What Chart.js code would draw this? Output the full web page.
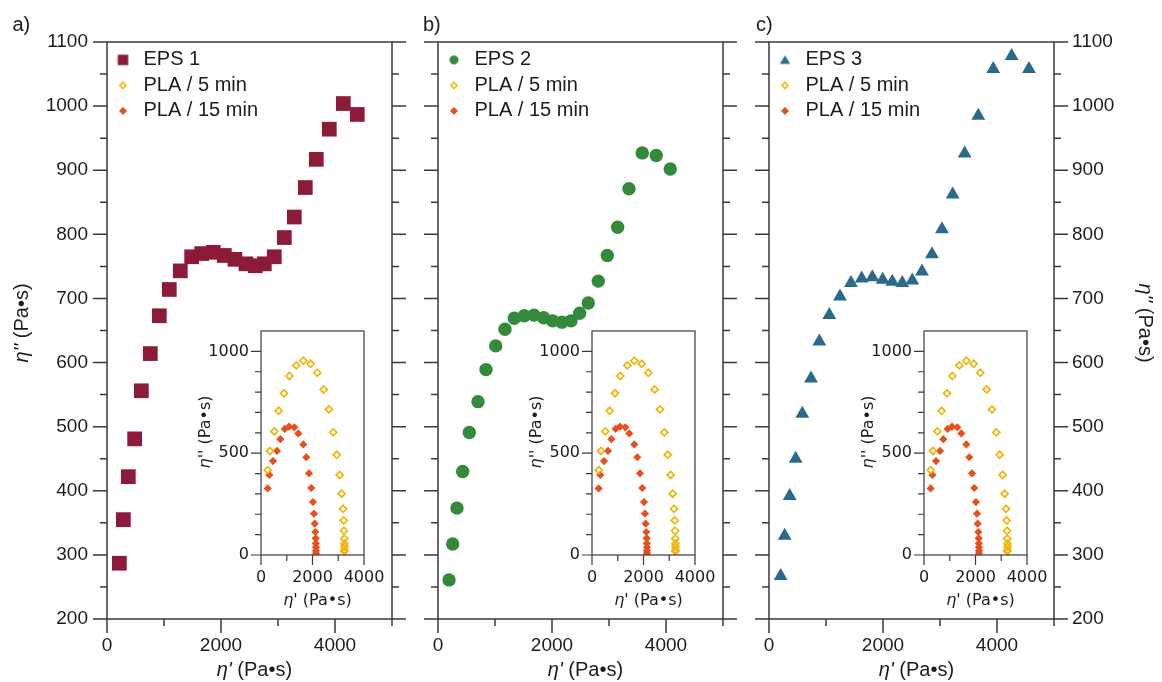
<!DOCTYPE html>
<html lang="en">
<head>
<meta charset="utf-8" />
<title>EPS / PLA complex viscosity</title>
<script src="https://cdn.jsdelivr.net/npm/chart.js@4.4.1/dist/chart.umd.min.js"></script>
<style>
  body { margin: 0; background: #fff; }
  #wrap { position: relative; width: 1162px; height: 682px; }
  #wrap canvas { position: absolute; left: 0; top: 0; }
</style>
</head>
<body>
<div id="wrap">
  <canvas id="mainA" width="1162" height="682"></canvas>
  <canvas id="mainB" width="1162" height="682"></canvas>
  <canvas id="mainC" width="1162" height="682"></canvas>
  <canvas id="insetA" width="1162" height="682"></canvas>
  <canvas id="insetB" width="1162" height="682"></canvas>
  <canvas id="insetC" width="1162" height="682"></canvas>
</div>
<script>
// ---- data (eta' , eta'' in Pa.s) ----
var eps1X = [217, 287, 374, 485, 603, 760, 918, 1093, 1286, 1485, 1661, 1865, 2058, 2245, 2438, 2602, 2760, 2935, 3111, 3286, 3479, 3672, 3900, 4146, 4391];
var eps1Y = [287, 355, 422, 481, 556, 614, 673, 714, 743, 765, 770, 772, 767, 761, 754, 751, 754, 765, 795, 827, 873, 917, 964, 1004, 987];

var eps2X = [193, 258, 333, 433, 549, 702, 842, 1012, 1175, 1339, 1514, 1684, 1854, 2012, 2175, 2333, 2485, 2636, 2812, 2970, 3152, 3350, 3584, 3829, 4075];
var eps2Y = [261, 317, 373, 430, 491, 539, 589, 626, 652, 669, 673, 674, 670, 665, 663, 665, 677, 693, 727, 767, 811, 871, 927, 923, 902];

var eps3X = [205, 275, 363, 468, 584, 737, 883, 1058, 1245, 1438, 1626, 1812, 1994, 2163, 2338, 2514, 2684, 2859, 3034, 3222, 3433, 3671, 3934, 4257, 4561];
var eps3Y = [267, 330, 392, 450, 520, 575, 633, 674, 703, 724, 731, 733, 729, 726, 724, 728, 742, 769, 808, 862, 926, 985, 1058, 1078, 1058];

var pla5X = [259, 350, 518, 686, 893, 1100, 1372, 1643, 1929, 2186, 2434, 2640, 2808, 2939, 3055, 3133, 3184, 3211, 3223, 3235, 3240, 3245, 3245, 3235];
var pla5Y = [417, 511, 607, 708, 794, 879, 931, 954, 939, 895, 813, 715, 602, 492, 393, 301, 227, 170, 119, 80, 55, 41, 25, 18];

var pla15X = [259, 324, 466, 621, 751, 919, 1087, 1294, 1449, 1643, 1759, 1864, 1953, 2019, 2058, 2085, 2109, 2124, 2130, 2136, 2136, 2136];
var pla15Y = [327, 393, 461, 511, 569, 619, 630, 627, 597, 543, 480, 401, 329, 260, 203, 154, 113, 82, 57, 38, 21, 8];

var mainXTicks = [0, 2000, 4000];
var mainYTicks = [200, 300, 400, 500, 600, 700, 800, 900, 1000, 1100];
var insetXTicks = [0, 2000, 4000];
var insetYTicks = [0, 500, 1000];

var legendNames = ['PLA / 5 min', 'PLA / 15 min'];

// ---- colours ----
var C_EPS1 = '#8c1b3a';
var C_EPS2 = '#338a3b';
var C_EPS3 = '#2b6a8b';
var C_PLA5 = '#f1b50a';
var C_PLA15 = '#e84f1c';
var INK = '#1c1c1c';
var LINE = '#3a3a3a';

Chart.defaults.font.family = 'Liberation Sans';
Chart.defaults.color = INK;

function pts(xs, ys) {
  return xs.map(function (x, i) { return { x: x, y: ys[i] }; });
}

// small marker bitmaps for the legend (sizes differ per item)
function marker(shape, color, size, filled) {
  var c = document.createElement('canvas');
  c.width = c.height = Math.ceil(size) + 4;
  var g = c.getContext('2d'), m = c.width / 2, h = size / 2;
  g.fillStyle = color; g.strokeStyle = color; g.lineWidth = 1.6;
  g.beginPath();
  if (shape === 'rect') g.rect(m - h, m - h, size, size);
  else if (shape === 'circle') g.arc(m, m, h, 0, Math.PI * 2);
  else if (shape === 'triangle') { g.moveTo(m, m - h * 0.85); g.lineTo(m + h, m + h * 0.75); g.lineTo(m - h, m + h * 0.75); g.closePath(); }
  else { var r = filled ? h : h - 1; g.moveTo(m, m - r); g.lineTo(m + r, m); g.lineTo(m, m + r); g.lineTo(m - r, m); g.closePath(); }
  if (filled) g.fill(); else g.stroke();
  return c;
}

function axisTitle(ctx, cx, cy, rot, size, family, primes) {
  var a = '\u03b7' + primes, b = ' (Pa\u2022s)';
  var fi = 'italic ' + size + 'px "' + family + '"', fn = size + 'px "' + family + '"';
  ctx.save();
  ctx.translate(cx, cy);
  ctx.rotate(rot);
  ctx.textBaseline = 'middle';
  ctx.textAlign = 'left';
  ctx.font = fi; var wa = ctx.measureText(a).width;
  ctx.font = fn; var wb = ctx.measureText(b).width;
  var x0 = -(wa + wb) / 2;
  ctx.font = fi; ctx.fillText(a, x0, 0);
  ctx.font = fn; ctx.fillText(b, x0 + wa, 0);
  ctx.restore();
}

// box, outward ticks (major + minor), axis titles, panel tag
var framePlugin = {
  id: 'frame',
  afterDraw: function (chart, args, o) {
    var ctx = chart.ctx, a = chart.chartArea, sx = chart.scales.x, sy = chart.scales.y;
    var v, p, len;
    ctx.save();
    ctx.strokeStyle = LINE;
    ctx.lineWidth = o.width;
    ctx.strokeRect(a.left, a.top, a.right - a.left, a.bottom - a.top);
    ctx.beginPath();
    for (v = o.yFrom; v <= o.yTo; v += o.yMinor) {
      p = sy.getPixelForValue(v);
      len = v % o.yMajor === 0 ? o.major : o.minor;
      if (o.left) { ctx.moveTo(a.left, p); ctx.lineTo(a.left - len, p); }
      if (o.right) { ctx.moveTo(a.right, p); ctx.lineTo(a.right + len, p); }
    }
    for (v = o.xFrom; v <= o.xTo; v += o.xMinor) {
      p = sx.getPixelForValue(v);
      len = v % o.xMajor === 0 ? o.major : o.minor;
      ctx.moveTo(p, a.bottom); ctx.lineTo(p, a.bottom + len);
    }
    ctx.stroke();
    ctx.fillStyle = INK;
    axisTitle(ctx, (a.left + a.right) / 2 + o.xdx, o.xty, 0, o.tsize, o.family, "'");
    axisTitle(ctx, o.ytx, (a.top + a.bottom) / 2 + o.ydy, o.yrot, o.tsize, o.family, "''");
    if (o.tag) {
      ctx.font = '20px "Liberation Sans"';
      ctx.textAlign = 'left';
      ctx.textBaseline = 'alphabetic';
      ctx.fillText(o.tag, o.tagX, 31);
    }
    ctx.restore();
  }
};

function tickSetter(list) {
  return function (s) { s.ticks = list.map(function (v) { return { value: v }; }); };
}

function mainChart(id, p) {
  var legendMarkers = [p.legendMarker, marker('diamond', C_PLA5, 8, false), marker('diamond', C_PLA15, 8, true)];
  var names = [p.label].concat(legendNames);
  return new Chart(document.getElementById(id), {
    type: 'scatter',
    data: {
      datasets: [{
        label: p.label,
        data: pts(p.xs, p.ys),
        pointStyle: p.shape,
        pointRadius: p.radius,
        backgroundColor: p.color,
        borderColor: p.color,
        borderWidth: 0
      }]
    },
    options: {
      responsive: false,
      animation: false,
      events: [],
      layout: { padding: p.padding },
      scales: {
        x: {
          type: 'linear', min: 0, max: 5000,
          afterBuildTicks: tickSetter(mainXTicks),
          afterFit: function (s) { s.height = 63; },
          grid: { display: false, drawTicks: false },
          border: { display: false },
          ticks: { padding: 15, autoSkip: false, maxRotation: 0, font: { size: 19 }, color: INK,
                   callback: function (v) { return String(v); } }
        },
        y: {
          type: 'linear', min: 200, max: 1100,
          display: p.yLabels,
          position: p.yPos,
          afterBuildTicks: tickSetter(mainYTicks),
          afterFit: function (s) { s.width = p.yWidth; },
          grid: { display: false, drawTicks: false },
          border: { display: false },
          ticks: { padding: p.yPad, autoSkip: false, font: { size: 19 }, color: INK,
                   callback: function (v) { return String(v); } }
        }
      },
      plugins: {
        tooltip: { enabled: false },
        legend: {
          position: 'chartArea',
          align: 'start',
          onClick: null,
          // the chartArea legend box starts at canvas top, this empty title pushes rows into the plot
          title: { display: true, text: '', font: { size: 2 }, padding: { top: 0, bottom: 42 } },
          labels: {
            usePointStyle: true,
            pointStyleWidth: 21,
            padding: 5.5,
            color: INK,
            font: { size: 20 },
            generateLabels: function () {
              return names.map(function (n, i) {
                return { text: n, pointStyle: legendMarkers[i], fillStyle: 'rgba(0,0,0,0)',
                         strokeStyle: 'rgba(0,0,0,0)', lineWidth: 0, fontColor: INK, hidden: false, datasetIndex: 0 };
              });
            }
          }
        },
        frame: {
          width: 1.5, major: 14, minor: 7,
          yFrom: 200, yTo: 1100, yMinor: 50, yMajor: 100,
          xFrom: 0, xTo: 5000, xMinor: 1000, xMajor: 2000,
          left: true, right: true,
          tsize: 20, family: 'Liberation Sans',
          xdx: 5, xty: 670, ytx: p.titleX, ydy: -7.5, yrot: p.titleRot,
          tag: p.tag, tagX: p.tagX
        }
      }
    },
    plugins: [framePlugin]
  });
}

function insetChart(id, left) {
  return new Chart(document.getElementById(id), {
    type: 'scatter',
    data: {
      datasets: [{
        label: 'PLA / 5 min',
        data: pts(pla5X, pla5Y),
        pointStyle: 'rectRot',
        pointRadius: 3.5,
        backgroundColor: 'rgba(255,255,255,0)',
        borderColor: C_PLA5,
        borderWidth: 1.7
      }, {
        label: 'PLA / 15 min',
        data: pts(pla15X, pla15Y),
        pointStyle: 'rectRot',
        pointRadius: 4.1,
        backgroundColor: C_PLA15,
        borderColor: C_PLA15,
        borderWidth: 0
      }]
    },
    options: {
      responsive: false,
      animation: false,
      events: [],
      layout: { padding: { left: left - 60, right: 1162 - left - 103, top: 331, bottom: 67 } },
      scales: {
        x: {
          type: 'linear', min: 0, max: 4000,
          afterBuildTicks: tickSetter(insetXTicks),
          afterFit: function (s) { s.height = 60; },
          grid: { display: false, drawTicks: false },
          border: { display: false },
          ticks: { padding: 13, autoSkip: false, maxRotation: 0, color: INK,
                   font: { family: 'DejaVu Sans', size: 16 },
                   callback: function (v) { return String(v); } }
        },
        y: {
          type: 'linear', min: 0, max: 1100,
          afterBuildTicks: tickSetter(insetYTicks),
          afterFit: function (s) { s.width = 60; },
          grid: { display: false, drawTicks: false },
          border: { display: false },
          ticks: { padding: 12, autoSkip: false, color: INK,
                   font: { family: 'DejaVu Sans', size: 16 },
                   callback: function (v) { return String(v); } }
        }
      },
      plugins: {
        tooltip: { enabled: false },
        legend: { display: false },
        frame: {
          width: 1.2, major: 10, minor: 6,
          yFrom: 0, yTo: 1000, yMinor: 100, yMajor: 500,
          xFrom: 0, xTo: 4000, xMinor: 1000, xMajor: 2000,
          left: true, right: false,
          tsize: 16, family: 'DejaVu Sans',
          xdx: 5, xty: 600.5, ytx: left - 55.5, ydy: -11, yrot: -Math.PI / 2,
          tag: null
        }
      }
    },
    plugins: [framePlugin]
  });
}

mainChart('mainA', {
  label: 'EPS 1', xs: eps1X, ys: eps1Y, shape: 'rect', radius: 10.4, color: C_EPS1,
  legendMarker: marker('rect', C_EPS1, 10.5, true),
  padding: { left: 0, right: 770, top: 42, bottom: 0 },
  yLabels: true, yPos: 'left', yWidth: 107, yPad: 19,
  titleX: 22, titleRot: -Math.PI / 2, tag: 'a)', tagX: 12.5
});
mainChart('mainB', {
  label: 'EPS 2', xs: eps2X, ys: eps2Y, shape: 'circle', radius: 6.7, color: C_EPS2,
  legendMarker: marker('circle', C_EPS2, 9, true),
  padding: { left: 438, right: 439, top: 42, bottom: 0 },
  yLabels: false, yPos: 'left', yWidth: 0, yPad: 0,
  titleX: -100, titleRot: -Math.PI / 2, tag: 'b)', tagX: 423
});
mainChart('mainC', {
  label: 'EPS 3', xs: eps3X, ys: eps3Y, shape: 'triangle', radius: 8, color: C_EPS3,
  legendMarker: marker('triangle', C_EPS3, 10.5, true),
  padding: { left: 769, right: 0, top: 42, bottom: 0 },
  yLabels: true, yPos: 'right', yWidth: 108, yPad: 18,
  titleX: 1145, titleRot: Math.PI / 2, tag: 'c)', tagX: 756
});

insetChart('insetA', 261);
insetChart('insetB', 592);
insetChart('insetC', 924);
</script>
</body>
</html>
